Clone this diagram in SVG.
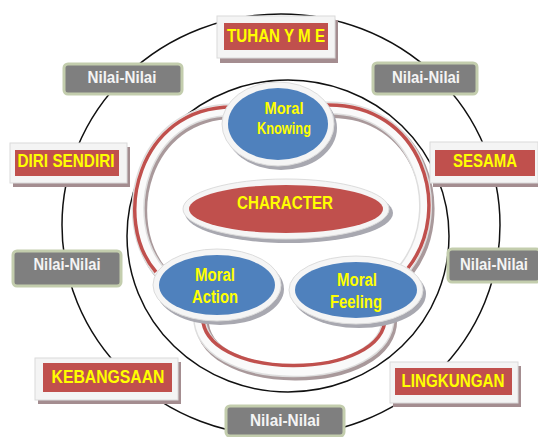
<svg xmlns="http://www.w3.org/2000/svg" width="538" height="437" viewBox="0 0 538 437">
<style>
.ring{fill:none;stroke:#111;stroke-width:1.5}
.frame{fill:#f4f4f4;stroke:#dadada;stroke-width:1}
.fshadow{fill:#a48d90}
.redbox{fill:#c0504d}
.nilai{fill:#7f7f7f;stroke:#c3cdad;stroke-width:3}
.t{font-family:"Liberation Sans",Arial,sans-serif;font-weight:bold;text-anchor:middle}
.y{fill:#ffff00}
.w{fill:#f4f4f4}
.bshadow{fill:none;stroke:#a9999b;stroke-width:14;stroke-linecap:butt}
.bout{fill:none;stroke:#dedede;stroke-width:13;stroke-linecap:butt}
.bin{fill:none;stroke:#fafafa;stroke-width:10;stroke-linecap:butt}
.bred{fill:none;stroke:#c0504d;stroke-width:3.5}
.hshadow{fill:#a8a8b0}
.halo{fill:#f5f5f5;stroke:#dcdcdc;stroke-width:1}
.blue{fill:#4f81bd}
.red{fill:#c0504d}
</style>

<ellipse class="ring" cx="281" cy="225" rx="219" ry="211"/>
<ellipse class="ring" cx="288" cy="236" rx="161" ry="156"/>

<g id="connectors">
  <path class="bshadow" d="M 234 112 C 142 112, 117 222, 162 274"/>
  <path class="bout" d="M 232 110 C 140 110, 115 220, 160 272"/>
  <path class="bin" d="M 232 110 C 140 110, 115 220, 160 272"/>
  <path class="bred" d="M 232 107 C 138 107, 111 220, 156 272"/>

  <path class="bshadow" d="M 327 111 C 422 108, 452 213, 407 271"/>
  <path class="bout" d="M 325 108 C 420 105, 450 210, 405 268"/>
  <path class="bin" d="M 325 108 C 420 105, 450 210, 405 268"/>
  <path class="bred" d="M 325 105 C 423 102, 454 210, 408 268"/>

  <path class="bshadow" d="M 202 314 C 192 393, 397 393, 390 316"/>
  <path class="bout" d="M 200 312 C 190 390, 395 390, 388 314"/>
  <path class="bin" d="M 200 312 C 190 390, 395 390, 388 314"/>
  <path class="bred" d="M 203 312 C 194 383, 391 383, 385 314"/>
</g>

<g id="moral-knowing">
  <ellipse class="hshadow" cx="281" cy="128" rx="56" ry="42"/>
  <ellipse class="halo" cx="278" cy="124" rx="56" ry="42"/>
  <ellipse class="blue" cx="278" cy="124" rx="50" ry="36"/>
  <text class="t y" x="284" y="114" font-size="17" textLength="39" lengthAdjust="spacingAndGlyphs">Moral</text>
  <text class="t y" x="284" y="134" font-size="17" textLength="54" lengthAdjust="spacingAndGlyphs">Knowing</text>
</g>

<g id="character">
  <ellipse class="hshadow" cx="289" cy="213" rx="104" ry="30"/>
  <ellipse class="halo" cx="286" cy="209" rx="103" ry="30"/>
  <ellipse class="red" cx="286" cy="209" rx="97" ry="24"/>
  <text class="t y" x="285" y="209" font-size="18" textLength="96" lengthAdjust="spacingAndGlyphs">CHARACTER</text>
</g>

<g id="moral-action">
  <ellipse class="hshadow" cx="220" cy="289" rx="64" ry="36"/>
  <ellipse class="halo" cx="217" cy="285" rx="64" ry="36"/>
  <ellipse class="blue" cx="217" cy="285" rx="58" ry="30"/>
  <text class="t y" x="215" y="281" font-size="18" textLength="40" lengthAdjust="spacingAndGlyphs">Moral</text>
  <text class="t y" x="215" y="303" font-size="18" textLength="46" lengthAdjust="spacingAndGlyphs">Action</text>
</g>

<g id="moral-feeling">
  <ellipse class="hshadow" cx="359" cy="294" rx="67" ry="34"/>
  <ellipse class="halo" cx="356" cy="290" rx="67" ry="34"/>
  <ellipse class="blue" cx="356" cy="290" rx="61" ry="28"/>
  <text class="t y" x="357" y="286" font-size="18" textLength="40" lengthAdjust="spacingAndGlyphs">Moral</text>
  <text class="t y" x="356" y="308" font-size="18" textLength="52" lengthAdjust="spacingAndGlyphs">Feeling</text>
</g>

<g id="tuhan">
  <rect class="fshadow" x="220" y="20" width="118" height="43"/>
  <rect class="frame" x="217" y="16" width="118" height="42"/>
  <rect class="redbox" x="224" y="23" width="104" height="27"/>
  <text class="t y" x="276" y="42" font-size="19" textLength="98" lengthAdjust="spacingAndGlyphs">TUHAN Y M E</text>
</g>

<g id="diri-sendiri">
  <rect class="fshadow" x="13" y="147" width="117" height="40"/>
  <rect class="frame" x="10" y="143" width="117" height="40"/>
  <rect class="redbox" x="15" y="150" width="104" height="26"/>
  <text class="t y" x="66" y="167" font-size="19" textLength="97" lengthAdjust="spacingAndGlyphs">DIRI SENDIRI</text>
</g>

<g id="sesama">
  <rect class="fshadow" x="433" y="146" width="105" height="41"/>
  <rect class="frame" x="430" y="142" width="108" height="41"/>
  <rect class="redbox" x="435" y="150" width="100" height="26"/>
  <text class="t y" x="485" y="167" font-size="19" textLength="64" lengthAdjust="spacingAndGlyphs">SESAMA</text>
</g>

<g id="kebangsaan">
  <rect class="fshadow" x="38" y="362" width="143" height="42"/>
  <rect class="frame" x="35" y="358" width="143" height="42"/>
  <rect class="redbox" x="43" y="363" width="129" height="29"/>
  <text class="t y" x="108" y="383" font-size="19" textLength="113" lengthAdjust="spacingAndGlyphs">KEBANGSAAN</text>
</g>

<g id="lingkungan">
  <rect class="fshadow" x="393" y="366" width="128" height="41"/>
  <rect class="frame" x="390" y="362" width="128" height="41"/>
  <rect class="redbox" x="395" y="368" width="117" height="27"/>
  <text class="t y" x="453" y="387" font-size="19" textLength="103" lengthAdjust="spacingAndGlyphs">LINGKUNGAN</text>
</g>

<g id="nilai-top-left">
  <rect class="nilai" x="64" y="64" width="118" height="30" rx="4"/>
  <text class="t w" x="122" y="83" font-size="17" textLength="69" lengthAdjust="spacingAndGlyphs">Nilai-Nilai</text>
</g>
<g id="nilai-top-right">
  <rect class="nilai" x="373" y="63" width="104" height="31" rx="4"/>
  <text class="t w" x="426" y="83" font-size="17" textLength="68" lengthAdjust="spacingAndGlyphs">Nilai-Nilai</text>
</g>
<g id="nilai-left">
  <rect class="nilai" x="13" y="251" width="108" height="35" rx="4"/>
  <text class="t w" x="67" y="270" font-size="17" textLength="67" lengthAdjust="spacingAndGlyphs">Nilai-Nilai</text>
</g>
<g id="nilai-right">
  <rect class="nilai" x="448" y="249" width="92" height="33" rx="4"/>
  <text class="t w" x="494" y="270" font-size="17" textLength="68" lengthAdjust="spacingAndGlyphs">Nilai-Nilai</text>
</g>
<g id="nilai-bottom">
  <rect class="nilai" x="226" y="406" width="118" height="30" rx="4"/>
  <text class="t w" x="285" y="426" font-size="17" textLength="70" lengthAdjust="spacingAndGlyphs">Nilai-Nilai</text>
</g>
</svg>
